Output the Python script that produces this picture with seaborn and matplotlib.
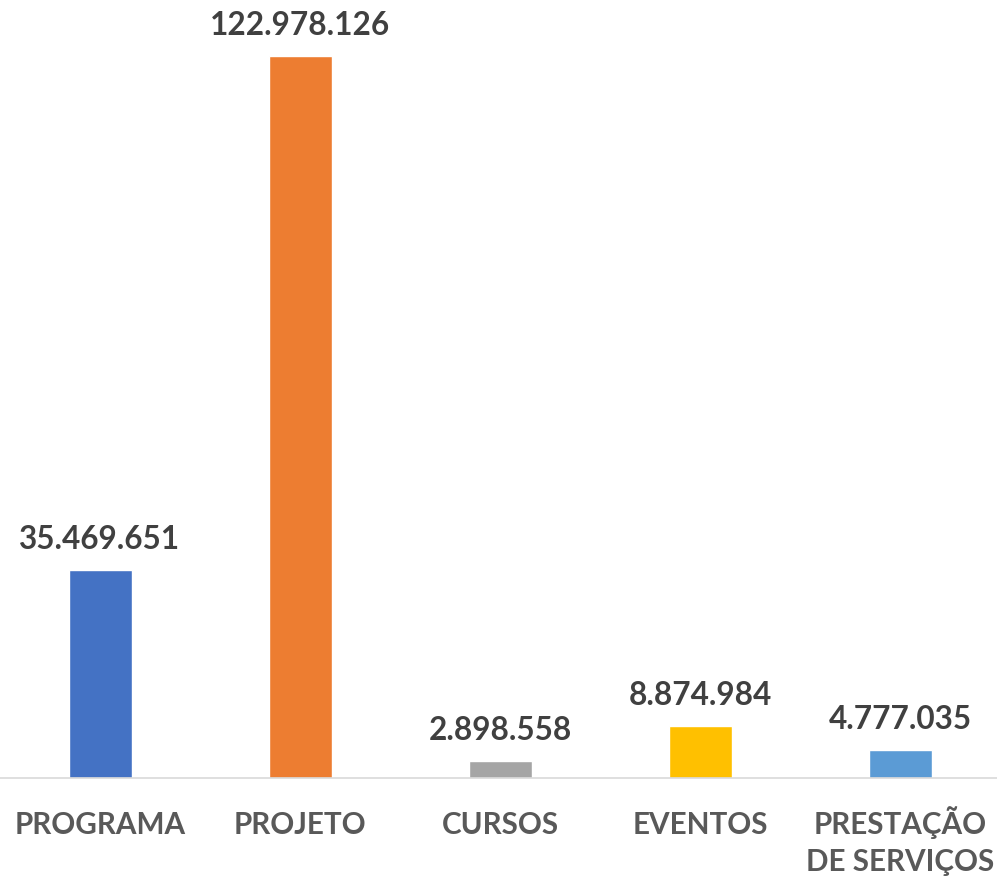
import matplotlib
matplotlib.use("Agg")
import matplotlib.pyplot as plt
import matplotlib.transforms as mtransforms
import seaborn as sns
import pandas as pd

# data
categories = ["PROGRAMA", "PROJETO", "CURSOS", "EVENTOS", "PRESTAÇÃO\nDE SERVIÇOS"]
values = [35469651, 122978126, 2898558, 8874984, 4777035]
colors = ["#4472C4", "#ED7D31", "#A5A5A5", "#FFC000", "#5B9BD5"]

df = pd.DataFrame({"categoria": categories, "valor": values})

sns.set_style("white")
plt.rcParams["font.family"] = ["Lato", "DejaVu Sans"]

fig = plt.figure(figsize=(9.97, 8.79), dpi=100)
ax = fig.add_axes([0, 100 / 879, 1, 779 / 879])

sns.barplot(data=df, x="categoria", y="valor", hue="categoria",
            palette=colors, width=0.315, legend=False, ax=ax, saturation=1)

ax.set_xlim(-0.5, 4.485)
ax.set_ylim(0, 132.7e6)

labels = [f"{v:,}".replace(",", ".") for v in values]
for cont, lab in zip(ax.containers, labels):
    ax.bar_label(cont, labels=[lab], padding=12, fontsize=22.7,
                 fontweight="bold", color="#404040")

ax.set_xlabel("")
ax.set_ylabel("")
ax.set_yticks([])
ax.tick_params(axis="x", length=0, pad=23, labelsize=21.3, labelcolor="#595959")
ticklabels = ax.get_xticklabels()
for t in ticklabels:
    t.set_fontweight("bold")
    t.set_linespacing(1.38)
# the tilde on the first line pushes the two-line label down; lift it a bit
last = ticklabels[-1]
last.set_transform(last.get_transform() +
                   mtransforms.ScaledTranslation(0, 5 / 100, fig.dpi_scale_trans))

for s in ["top", "left", "right"]:
    ax.spines[s].set_visible(False)
ax.spines["bottom"].set_color("#D9D9D9")
ax.spines["bottom"].set_linewidth(1.2)

fig.savefig("out.png", dpi=100)
